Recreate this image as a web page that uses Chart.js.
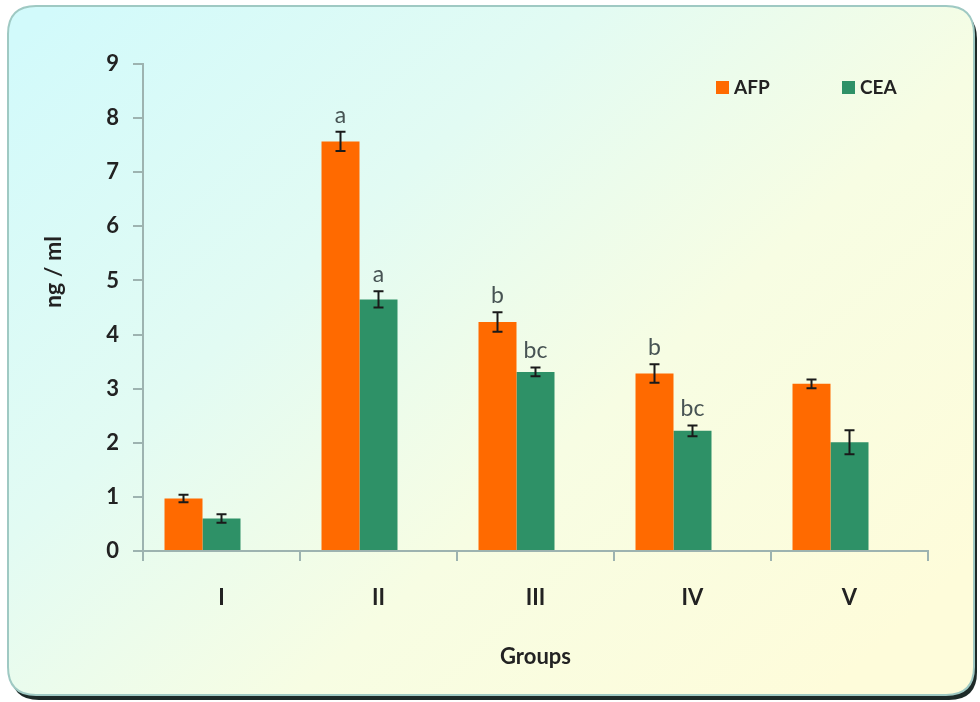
<!DOCTYPE html>
<html>
<head>
<meta charset="utf-8">
<script src="https://cdn.jsdelivr.net/npm/chart.js@4.4.1/dist/chart.umd.min.js"></script>
<style>
  html, body { margin: 0; padding: 0; background: #ffffff; }
  #wrap { width: 980px; height: 702px; position: relative; }
</style>
</head>
<body>
<div id="wrap"><canvas id="c" width="980" height="702"></canvas></div>
<script>
// Serum tumour markers per group (mean ± error)
const groups = ['I', 'II', 'III', 'IV', 'V'];
const afpValues = [0.97, 7.57, 4.23, 3.28, 3.09];
const afpErrors = [0.07, 0.18, 0.18, 0.17, 0.08];
const ceaValues = [0.60, 4.65, 3.31, 2.22, 2.01];
const ceaErrors = [0.08, 0.15, 0.08, 0.10, 0.22];
const afpLetters = ['', 'a', 'b', 'b', ''];
const ceaLetters = ['', 'a', 'bc', 'bc', ''];
const yTicks = [0, 1, 2, 3, 4, 5, 6, 7, 8, 9];
// empty third slot per group (keeps the bar pair left of the group centre)
const spacerValues = [null, null, null, null, null];

const ORANGE = '#ff6a00';
const GREEN = '#2e9167';
const FONT = 'Lato, "Open Sans", "DejaVu Sans", sans-serif';

// Rounded panel with diagonal cyan-to-cream gradient behind the plot
const panelPlugin = {
  id: 'panel',
  beforeDraw(chart) {
    const ctx = chart.ctx;
    const x = 8, y = 6, w = 966, h = 689, r = 28;
    const path = () => {
      ctx.beginPath();
      ctx.moveTo(x + r, y);
      ctx.lineTo(x + w - r, y);
      ctx.quadraticCurveTo(x + w, y, x + w, y + r);
      ctx.lineTo(x + w, y + h - r);
      ctx.quadraticCurveTo(x + w, y + h, x + w - r, y + h);
      ctx.lineTo(x + r, y + h);
      ctx.quadraticCurveTo(x, y + h, x, y + h - r);
      ctx.lineTo(x, y + r);
      ctx.quadraticCurveTo(x, y, x + r, y);
      ctx.closePath();
    };
    ctx.save();
    ctx.fillStyle = '#ffffff';
    ctx.fillRect(0, 0, chart.width, chart.height);
    // dark drop shadow along bottom/right
    ctx.save();
    ctx.translate(3, 5);
    path();
    ctx.fillStyle = '#1d2a28';
    ctx.fill();
    ctx.restore();
    const g = ctx.createLinearGradient(60, 0, 760, 760);
    g.addColorStop(0, '#d2fafb');
    g.addColorStop(0.35, '#e2fbf3');
    g.addColorStop(0.65, '#f7fde3');
    g.addColorStop(1, '#fefcda');
    path();
    ctx.fillStyle = g;
    ctx.fill();
    ctx.lineWidth = 2;
    ctx.strokeStyle = '#9fc9c3';
    ctx.stroke();
    ctx.restore();
  }
};

// Error bars, significance letters, legend and y-axis title
const extrasPlugin = {
  id: 'extras',
  afterDatasetsDraw(chart) {
    const ctx = chart.ctx;
    const yScale = chart.scales.y;
    const errs = [afpErrors, ceaErrors];
    const letters = [afpLetters, ceaLetters];
    ctx.save();
    [0, 1].forEach(di => {
      const ds = chart.data.datasets[di];
      const meta = chart.getDatasetMeta(di);
      meta.data.forEach((bar, i) => {
        const v = ds.data[i];
        const e = errs[di][i];
        const yt = yScale.getPixelForValue(v + e);
        const yb = yScale.getPixelForValue(v - e);
        const cx = bar.x;
        ctx.strokeStyle = '#1a1a1a';
        ctx.lineWidth = 2;
        ctx.beginPath();
        ctx.moveTo(cx, yt); ctx.lineTo(cx, yb);
        ctx.moveTo(cx - 5, yt); ctx.lineTo(cx + 5, yt);
        ctx.moveTo(cx - 5, yb); ctx.lineTo(cx + 5, yb);
        ctx.stroke();
        const t = letters[di][i];
        if (t) {
          ctx.fillStyle = '#475353';
          ctx.font = '23px ' + FONT;
          ctx.textAlign = 'center';
          ctx.textBaseline = 'bottom';
          ctx.fillText(t, cx, yt - 5);
        }
      });
    });
    // legend
    ctx.font = 'bold 19px ' + FONT;
    ctx.textBaseline = 'middle';
    ctx.textAlign = 'left';
    const legendItems = [{ x: 716, ds: 0 }, { x: 842, ds: 1 }];
    legendItems.forEach(it => {
      const ds = chart.data.datasets[it.ds];
      ctx.fillStyle = ds.backgroundColor;
      ctx.fillRect(it.x, 81, 13, 13);
      ctx.fillStyle = '#222222';
      ctx.fillText(ds.label, it.x + 18, 88);
    });
    // y-axis title
    ctx.translate(54, 272);
    ctx.rotate(-Math.PI / 2);
    ctx.textAlign = 'center';
    ctx.font = 'bold 23px ' + FONT;
    ctx.fillStyle = '#222222';
    ctx.fillText('ng / ml', 0, 0);
    ctx.restore();
  }
};

new Chart(document.getElementById('c'), {
  type: 'bar',
  data: {
    labels: groups,
    datasets: [
      { label: 'AFP', data: afpValues, backgroundColor: ORANGE },
      { label: 'CEA', data: ceaValues, backgroundColor: GREEN },
      { label: '', data: spacerValues, backgroundColor: 'rgba(0,0,0,0)' }
    ]
  },
  options: {
    responsive: false,
    animation: false,
    layout: { padding: { left: 0, right: 52, top: 64, bottom: 0 } },
    datasets: { bar: { barPercentage: 1.0, categoryPercentage: 0.726 } },
    plugins: { legend: { display: false }, tooltip: { enabled: false } },
    scales: {
      x: {
        grid: { offset: true, drawOnChartArea: false, drawTicks: true, tickLength: 10, color: '#9db3b0', lineWidth: 2 },
        border: { display: true, color: '#9db3b0', width: 2 },
        ticks: { color: '#222222', font: { family: FONT, size: 22, weight: 'bold' }, padding: 24 },
        title: { display: true, text: 'Groups', color: '#222222', font: { family: FONT, size: 22, weight: 'bold' }, padding: { top: 20, bottom: 32 } },
        afterFit(scale) { scale.height = 151; }
      },
      y: {
        min: 0, max: 9,
        afterBuildTicks(scale) { scale.ticks = yTicks.map(v => ({ value: v })); },
        grid: { drawOnChartArea: false, drawTicks: true, tickLength: 10, color: '#9db3b0', lineWidth: 2 },
        border: { display: true, color: '#9db3b0', width: 2 },
        ticks: { color: '#222222', font: { family: FONT, size: 22, weight: 'bold' }, padding: 14 },
        afterFit(scale) { scale.width = 143; }
      }
    }
  },
  plugins: [panelPlugin, extrasPlugin]
});
</script>
</body>
</html>
